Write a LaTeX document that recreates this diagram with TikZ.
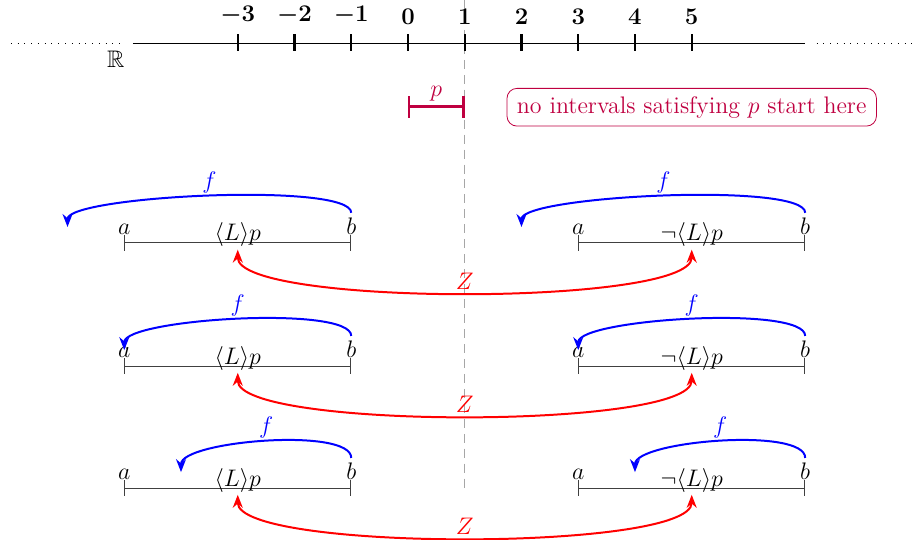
\documentclass[12pt,tikz,border=0pt]{standalone}
\usepackage{amsmath,amssymb}
\usepackage{tikz}
\usetikzlibrary{arrows.meta,positioning,calc}
\usepackage{xcolor}

\tikzset{
  ival/.style={draw=black!75, {Bar[width=8pt]}-{Bar[width=8pt]}},
  farr/.style={blue, line width=1pt, -{Stealth[length=6.5pt, width=5pt]}},
  zarr/.style={red, line width=1pt, {Stealth[length=6.5pt, width=5pt]}-{Stealth[length=6.5pt, width=5pt]}},
  numtick/.style={very thick},
  arrlab/.style={midway, above, inner sep=1pt},
  dots/.style={dash pattern=on 0.4pt off 3pt},
}

\begin{document}
\begin{tikzpicture}
  \useasboundingbox (-7.19,-8.74) rectangle (8.97,0.76);
  \draw[gray!70, dash pattern=on 4.5pt off 3pt] (1,0.76) -- (1,-7.84);
  % the real line
  \draw[dots] (-7,0) -- (-5.05,0);
  \draw[dots] (7.2,0) -- (9,0);
  \draw (-4.85,0) node[below left] (reals) {$\mathbb{R}$} -- (7,0);
  \foreach \x in {-3,...,5} {
    \draw[numtick] (\x,-0.13) -- (\x,0.16) node[above] (num\x) {$\boldsymbol{\x}$};
  }
  \draw[purple, line width=1.2pt, {Bar[width=11pt]}-{Bar[width=11pt]}] (0,-1.12) -- node[above, inner sep=2pt] (plab) {$p$} (1,-1.12);
  \node[draw=purple, text=purple, rounded corners=5pt, inner xsep=5pt] (note) at (5,-1.13) {no intervals satisfying $p$ start here};
  % three cases
  \foreach \v/\fl/\fr [count=\i] in {-3.52/-6/2, -5.69/-5/3, -7.84/-4/4} {
    \draw[ival] (-5,\v) node[above] (la\i) {$a$} -- node[anchor=base, yshift=1pt] (pl\i) {$\langle L\rangle p$} (-1,\v) node[above] (lb\i) {$b$};
    \draw[ival] (3,\v) node[above] (ra\i) {$a$} -- node[anchor=base, yshift=1pt] (pr\i) {$\neg\langle L\rangle p$} (7,\v) node[above] (rb\i) {$b$};
    \coordinate (sl\i) at (-1,\v+0.53);
    \coordinate (sr\i) at (7,\v+0.53);
    \coordinate (fl\i) at (\fl,\v+0.28);
    \coordinate (fr\i) at (\fr,\v+0.28);
    \coordinate (zl\i) at (-3,\v-0.12);
    \coordinate (zr\i) at (5,\v-0.12);
    \draw[farr] (sl\i) .. controls +(0,0.55) and +(0,0.55) .. (fl\i) node[arrlab] {$f$};
    \draw[farr] (sr\i) .. controls +(0,0.55) and +(0,0.55) .. (fr\i) node[arrlab] {$f$};
    \draw[zarr] (zl\i) .. controls +(0,-1) and +(0,-1) .. (zr\i) node[arrlab] {$Z$};
  }
\end{tikzpicture}
\end{document}
